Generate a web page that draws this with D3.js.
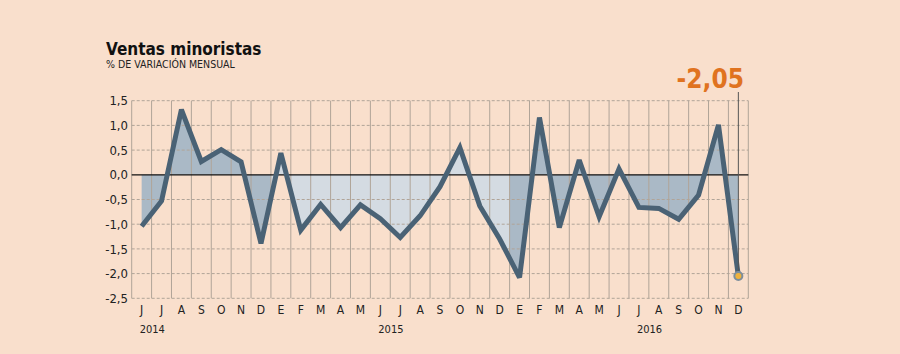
<!DOCTYPE html>
<html><head><meta charset="utf-8">
<script src="https://cdn.jsdelivr.net/npm/d3@7"></script>
<style>html,body{margin:0;padding:0;background:#f9dfcc;} svg{display:block}</style>
</head><body><svg id="c" width="900" height="354"></svg>
<script>
// ---- data ----
const months = ["J","J","A","S","O","N","D","E","F","M","A","M","J","J","A","S","O","N","D","E","F","M","A","M","J","J","A","S","O","N","D"];
const values = [-1.04,-0.53,1.32,0.27,0.51,0.26,-1.39,0.44,-1.12,-0.60,-1.07,-0.61,-0.89,-1.27,-0.83,-0.24,0.55,-0.63,-1.30,-2.08,1.16,-1.07,0.30,-0.85,0.12,-0.66,-0.68,-0.90,-0.41,1.01,-2.05];
const yearNames = ["2014","2015","2016"];
const yearFirstMonth = [0,7,19];
const yearLastMonth = [6,18,30];
const yearLabelMonth = [0,12,25];
const yTicks = [1.5,1,0.5,0,-0.5,-1,-1.5,-2,-2.5];
const title = "Ventas minoristas";
const subtitle = "% DE VARIACIÓN MENSUAL";

// ---- styles ----
const yearFill = ["#aab9c6","#d4dbe2","#aab9c6"];
const lineColor = "#4a6275";
const gridColor = "#b0a498";
const accent = "#e0731f";
const font = "'DejaVu Sans Condensed','DejaVu Sans',sans-serif";

const loc = d3.formatLocale({decimal:",",thousands:".",grouping:[3],currency:["","€"],minus:"-"});
const f1 = loc.format(".1f"), f2 = loc.format(".2f");

const svg = d3.select("#c");
const x = d3.scaleBand().domain(d3.range(months.length)).range([131.7,748.3]).padding(0);
const bw = x.bandwidth();
const cx = i => x(i) + bw/2;
const y = d3.scaleLinear().domain([-2.5,1.5]).range([298.3,100.7]);

// fills per year
const defs = svg.append("defs");
yearNames.forEach((yn,k)=>{
  defs.append("clipPath").attr("id","clip"+k).append("rect")
    .attr("x", x(yearFirstMonth[k])).attr("y",0)
    .attr("width", x(yearLastMonth[k]) + bw - x(yearFirstMonth[k])).attr("height",354);
});
const area = d3.area().x((d,i)=>cx(i)).y0(y(0)).y1(d=>y(d));
yearNames.forEach((yn,k)=>{
  svg.append("path").datum(values).attr("d",area)
    .attr("fill",yearFill[k]).attr("clip-path","url(#clip"+k+")");
});

// horizontal dashed gridlines
svg.append("g").selectAll("line").data(yTicks.filter(t=>t!==0)).join("line")
  .attr("x1",x(0)).attr("x2",x(months.length-1)+bw)
  .attr("y1",d=>y(d)).attr("y2",d=>y(d))
  .attr("stroke",gridColor).attr("stroke-width",1).attr("stroke-dasharray","3,2");

// vertical gridlines at month boundaries
const bounds = d3.range(months.length+1).map(i=> i<months.length ? x(i) : x(i-1)+bw);
svg.append("g").selectAll("line").data(bounds).join("line")
  .attr("x1",d=>d).attr("x2",d=>d).attr("y1",y(1.5)).attr("y2",y(-2.5))
  .attr("stroke",gridColor).attr("stroke-width",1);

// zero line
svg.append("line").attr("x1",x(0)).attr("x2",x(months.length-1)+bw)
  .attr("y1",y(0)).attr("y2",y(0)).attr("stroke","#111").attr("stroke-width",1.2);

// y axis labels
const yAxis = d3.axisLeft(y).tickValues(yTicks).tickFormat(f1).tickSize(0).tickPadding(0);
const gy = svg.append("g").attr("transform","translate(128,0)").call(yAxis);
gy.select(".domain").remove();
gy.selectAll("text").attr("font-family",font).attr("font-size",13).attr("fill","#222");

// x axis labels
const xAxis = d3.axisBottom(x).tickFormat(i=>months[i]).tickSize(0).tickPadding(0);
const gx = svg.append("g").attr("transform","translate(0,305)").call(xAxis);
gx.select(".domain").remove();
gx.selectAll("text").attr("font-family",font).attr("font-size",12).attr("fill","#222").attr("dy","0.71em");

// year labels
svg.append("g").selectAll("text").data(yearNames).join("text")
  .attr("x",(d,k)=>cx(yearLabelMonth[k])-2).attr("y",333)
  .attr("font-family",font).attr("font-size",11).attr("fill","#222").text(d=>d);

// line
svg.append("path").datum(values)
  .attr("d", d3.line().x((d,i)=>cx(i)).y(d=>y(d)))
  .attr("fill","none").attr("stroke",lineColor).attr("stroke-width",5)
  .attr("stroke-linejoin","miter").attr("stroke-miterlimit",3);

// annotation
const li = values.length-1;
svg.append("line").attr("x1",cx(li)).attr("x2",cx(li)).attr("y1",92).attr("y2",y(values[li]))
  .attr("stroke","#555").attr("stroke-width",1);
svg.append("circle").attr("cx",cx(li)).attr("cy",y(values[li])).attr("r",4)
  .attr("fill","#f0b23c").attr("stroke","#7d8e9c").attr("stroke-width",2);
svg.append("text").attr("x",744).attr("y",88).attr("text-anchor","end")
  .attr("font-family",font).attr("font-weight","bold").attr("font-size",26).attr("fill",accent)
  .text(f2(values[li]));

// titles
svg.append("text").attr("x",106).attr("y",55).attr("font-family",font).attr("font-weight","bold")
  .attr("font-size",17).attr("fill","#111").text(title);
svg.append("text").attr("x",106).attr("y",68).attr("font-family",font)
  .attr("font-size",10.5).attr("fill","#222").text(subtitle);
</script></body></html>
